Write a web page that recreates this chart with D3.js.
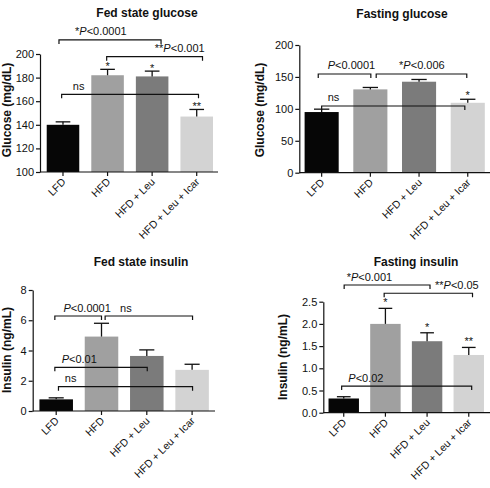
<!DOCTYPE html>
<html>
<head>
<meta charset="utf-8">
<script src="https://cdn.jsdelivr.net/npm/d3@7"></script>
<style>
  html, body { margin: 0; padding: 0; background: #fff; }
  svg { display: block; font-family: "Liberation Sans", Arial, sans-serif; }
</style>
</head>
<body>
<svg id="chart" width="490" height="488"></svg>
<script>
// ---------------- DATA ----------------
const categories = ["LFD", "HFD", "HFD + Leu", "HFD + Leu + Icar"];
const barColors = ["#060606", "#a0a0a0", "#7b7b7b", "#d3d3d3"];

const fedGlucose = [140, 182, 181, 147];
const fedGlucoseErr = [2.5, 5, 4.5, 6];
const fastGlucose = [95, 130.5, 142.5, 109.5];
const fastGlucoseErr = [4.5, 3, 3.5, 5.5];
const fedInsulin = [0.77, 4.92, 3.64, 2.72];
const fedInsulinErr = [0.1, 0.88, 0.4, 0.37];
const fastInsulin = [0.32, 2.0, 1.61, 1.3];
const fastInsulinErr = [0.04, 0.35, 0.19, 0.17];

const fedGlucoseTicks = [100, 120, 140, 160, 180, 200];
const fastGlucoseTicks = [0, 50, 100, 150, 200];
const fedInsulinTicks = [0, 2, 4, 6, 8];
const fastInsulinTicks = [0, 0.5, 1.0, 1.5, 2.0, 2.5];

const titles = ["Fed state glucose", "Fasting glucose", "Fed state insulin", "Fasting insulin"];
const yLabels = ["Glucose (mg/dL)", "Glucose (mg/dL)", "Insulin (ng/mL)", "Insulin (ng/mL)"];

// significance brackets: from/to in category-index units, level in data units
const fedGlucoseBrackets = [
  { from: -0.09, to: 2.2, level: 211.9, label: "*P<0.0001", at: 0.27 },
  { from: 0.98, to: 3.13, level: 197.7, label: "**P<0.001", at: 2.06 },
  { from: -0.03, to: 3.04, level: 165.8, label: "ns", at: 0.22 }
];
const fastGlucoseBrackets = [
  { from: -0.07, to: 1.01, level: 154.6, label: "P<0.0001", at: 0.125 },
  { from: 1.12, to: 2.98, level: 154.6, label: "*P<0.006", at: 1.59 },
  { from: 0.0, to: 2.94, level: 104.5, label: "ns", at: 0.125 }
];
const fedInsulinBrackets = [
  { from: -0.03, to: 1.0, level: 6.28, label: "P<0.0001", at: 0.16 },
  { from: 1.08, to: 3.01, level: 6.28, label: "ns", at: 1.41 },
  { from: -0.03, to: 2.01, level: 2.89, label: "P<0.01", at: 0.12 },
  { from: 0.05, to: 3.01, level: 1.61, label: "ns", at: 0.19 }
];
const fastInsulinBrackets = [
  { from: 0.01, to: 2.07, level: 2.876, label: "*P<0.001", at: 0.07 },
  { from: 0.97, to: 3.09, level: 2.69, label: "**P<0.05", at: 2.19 },
  { from: -0.05, to: 3.07, level: 0.60, label: "P<0.02", at: 0.11 }
];

const fedGlucoseStars = ["", "*", "*", "**"];
const fastGlucoseStars = ["", "", "", "*"];
const fedInsulinStars = ["", "", "", ""];
const fastInsulinStars = ["", "*", "*", "**"];

// ---------------- LAYOUT ----------------
const panels = [
  { values: fedGlucose, errs: fedGlucoseErr, ticks: fedGlucoseTicks, domain: [100, 200], fmt: d3.format("d"),
    brackets: fedGlucoseBrackets, stars: fedGlucoseStars,
    axisX: 40, yRange: [172, 54], band: [40.7, 219], pad: 0.27, axisEnd: 218,
    title: [147, 17], ylab: [11, 110], starDy: 1 },
  { values: fastGlucose, errs: fastGlucoseErr, ticks: fastGlucoseTicks, domain: [0, 200], fmt: d3.format("d"),
    brackets: fastGlucoseBrackets, stars: fastGlucoseStars,
    axisX: 299.3, yRange: [172.7, 45], band: [297.3, 492.1], pad: 0.3, axisEnd: 490,
    title: [402, 17.5], ylab: [264, 110], starDy: 0 },
  { values: fedInsulin, errs: fedInsulinErr, ticks: fedInsulinTicks, domain: [0, 8], fmt: d3.format("d"),
    brackets: fedInsulinBrackets, stars: fedInsulinStars,
    axisX: 32.7, yRange: [411, 290], band: [33.55, 214.75], pad: 0.26, axisEnd: 215,
    title: [141, 266], ylab: [11, 350], starDy: 0 },
  { values: fastInsulin, errs: fastInsulinErr, ticks: fastInsulinTicks, domain: [0, 2.5], fmt: d3.format(".1f"),
    brackets: fastInsulinBrackets, stars: fastInsulinStars,
    axisX: 323.3, yRange: [412.7, 301.7], band: [322.9, 489.6], pad: 0.27, axisEnd: 490,
    title: [416, 266], ylab: [287, 357], starDy: -2 }
];

const svg = d3.select("#chart");
const ink = "#111";

function addPText(sel, str) {
  // italic P, everything else upright
  const parts = str.split(/(P)/).filter(s => s.length);
  parts.forEach(p => {
    sel.append("tspan").attr("font-style", p === "P" ? "italic" : "normal").text(p);
  });
}

panels.forEach((p, pi) => {
  const g = svg.append("g");
  const x = d3.scaleBand().domain(categories).range(p.band).paddingInner(p.pad).paddingOuter(p.pad / 2);
  const y = d3.scaleLinear().domain(p.domain).range(p.yRange);
  const step = x.step();
  const c0 = x(categories[0]) + x.bandwidth() / 2;
  const idx = d3.scaleLinear().domain([0, 1]).range([c0, c0 + step]);
  const baseY = p.yRange[0];

  // title
  g.append("text").attr("x", p.title[0]).attr("y", p.title[1])
    .attr("text-anchor", "middle").attr("font-weight", "bold").attr("font-size", 12).attr("fill", ink)
    .text(titles[pi]);

  // y label
  g.append("text").attr("transform", `translate(${p.ylab[0]},${p.ylab[1]}) rotate(-90)`)
    .attr("text-anchor", "middle").attr("font-weight", "bold").attr("font-size", 12).attr("fill", ink)
    .text(yLabels[pi]);

  // bars
  g.selectAll("rect.bar").data(p.values).join("rect")
    .attr("class", "bar")
    .attr("x", (d, i) => x(categories[i]))
    .attr("width", x.bandwidth())
    .attr("y", d => y(d))
    .attr("height", d => baseY - y(d))
    .attr("fill", (d, i) => barColors[i]);

  // error bars (upper only)
  const capW = x.bandwidth() * 0.45;
  p.values.forEach((v, i) => {
    const cx = x(categories[i]) + x.bandwidth() / 2;
    const top = y(v + p.errs[i]);
    g.append("line").attr("x1", cx).attr("x2", cx).attr("y1", y(v)).attr("y2", top)
      .attr("stroke", ink).attr("stroke-width", 1.3);
    g.append("line").attr("x1", cx - capW / 2).attr("x2", cx + capW / 2).attr("y1", top).attr("y2", top)
      .attr("stroke", ink).attr("stroke-width", 1.3);
    if (p.stars[i]) {
      g.append("text").attr("x", cx).attr("y", top + p.starDy)
        .attr("text-anchor", "middle").attr("font-size", 11).attr("fill", ink).text(p.stars[i]);
    }
  });

  // y axis
  const yAxis = d3.axisLeft(y).tickValues(p.ticks).tickFormat(p.fmt).tickSize(4).tickSizeOuter(0).tickPadding(2);
  const ya = g.append("g").attr("transform", `translate(${p.axisX},0)`).call(yAxis);
  ya.selectAll("text").attr("font-size", 11).attr("fill", ink).attr("font-family", "Liberation Sans, Arial, sans-serif");
  ya.selectAll("line, path").attr("stroke", ink).attr("stroke-width", 1.2);

  // x axis
  g.append("line").attr("x1", p.axisX).attr("x2", p.axisEnd).attr("y1", baseY).attr("y2", baseY)
    .attr("stroke", ink).attr("stroke-width", 1.2);
  categories.forEach((c, i) => {
    const cx = x(c) + x.bandwidth() / 2;
    g.append("line").attr("x1", cx).attr("x2", cx).attr("y1", baseY).attr("y2", baseY + 4)
      .attr("stroke", ink).attr("stroke-width", 1.2);
    g.append("text").attr("transform", `translate(${cx + 3.5},${baseY + 10.5}) rotate(-45)`)
      .attr("text-anchor", "end").attr("font-size", 10.5).attr("fill", ink).text(c);
  });

  // brackets
  p.brackets.forEach(b => {
    const by = y(b.level);
    const x1 = idx(b.from), x2 = idx(b.to);
    g.append("path")
      .attr("d", `M${x1},${by + 4}V${by}H${x2}V${by + 4}`)
      .attr("fill", "none").attr("stroke", ink).attr("stroke-width", 1.2);
    const t = g.append("text").attr("x", idx(b.at)).attr("y", by - 4.5)
      .attr("font-size", 11).attr("fill", ink);
    addPText(t, b.label);
  });
});
</script>
</body>
</html>
